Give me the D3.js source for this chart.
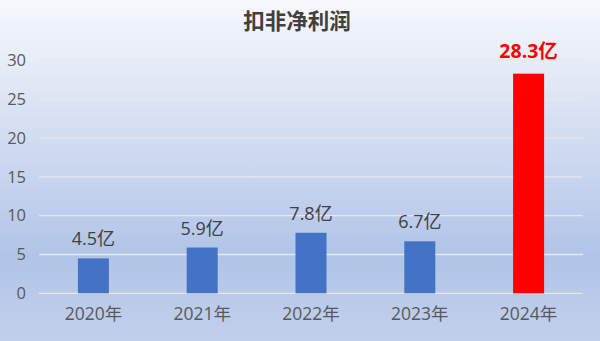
<!DOCTYPE html>
<html>
<head>
<meta charset="utf-8">
<script src="https://cdn.jsdelivr.net/npm/d3@7"></script>
<style>
  html, body { margin: 0; padding: 0; background: #fff; }
  svg { display: block; }
  text { font-family: "Open Sans", "Noto Sans CJK SC", sans-serif; }
</style>
</head>
<body>
<div id="chart"></div>
<script>
(function () {
  // chart data
  var years = ['2020年', '2021年', '2022年', '2023年', '2024年'];
  var profits = [4.5, 5.9, 7.8, 6.7, 28.3];
  var labels = ['4.5亿', '5.9亿', '7.8亿', '6.7亿', '28.3亿'];
  var yTicks = [0, 5, 10, 15, 20, 25, 30];
  var title = '扣非净利润';

  var width = 600;
  var height = 341;
  var plot = { left: 39, right: 583, top: 60.5, bottom: 293.3 };

  var svg = d3.select('#chart').append('svg')
      .attr('width', width)
      .attr('height', height);

  // background gradient, light at top, deeper blue lower down
  var grad = svg.append('defs').append('linearGradient')
      .attr('id', 'bg')
      .attr('x1', 0).attr('y1', 0).attr('x2', 0).attr('y2', 1);
  [['0%', '#f6f8fc'], ['18%', '#e7ecf7'], ['50%', '#c9d6ef'],
   ['75%', '#b1c4e7'], ['100%', '#c2d0ec']].forEach(function (s) {
    grad.append('stop').attr('offset', s[0]).attr('stop-color', s[1]);
  });
  svg.append('rect')
      .attr('width', width)
      .attr('height', height)
      .attr('fill', 'url(#bg)');

  var x = d3.scaleBand()
      .domain(years)
      .range([plot.left, plot.right])
      .padding(0);
  var y = d3.scaleLinear()
      .domain([0, 30])
      .range([plot.bottom, plot.top]);

  var barWidth = x.bandwidth() * 0.285;

  // gridlines
  svg.append('g')
    .selectAll('line')
    .data(yTicks)
    .join('line')
      .attr('x1', plot.left)
      .attr('x2', plot.right)
      .attr('y1', function (d) { return y(d); })
      .attr('y2', function (d) { return y(d); })
      .attr('stroke', '#e6e8ec')
      .attr('stroke-width', 1.3);

  // y axis labels
  var yAxis = svg.append('g')
      .attr('transform', 'translate(' + (plot.left - 13) + ',0)')
      .call(d3.axisLeft(y).tickValues(yTicks).tickSize(0).tickPadding(0));
  yAxis.select('.domain').remove();
  yAxis.selectAll('text')
      .attr('fill', '#595959')
      .attr('font-size', 16.5)
      .style('font-family', '"Open Sans", sans-serif');

  // x axis labels
  var xAxis = svg.append('g')
      .attr('transform', 'translate(0,' + plot.bottom + ')')
      .call(d3.axisBottom(x).tickSize(0).tickPadding(14));
  xAxis.select('.domain').remove();
  xAxis.selectAll('text')
      .attr('fill', '#595959')
      .attr('font-size', 17.5);

  function isLast(i) { return i === profits.length - 1; }

  // bars
  svg.append('g')
    .selectAll('rect')
    .data(profits)
    .join('rect')
      .attr('x', function (d, i) { return x(years[i]) + x.bandwidth() / 2 - barWidth / 2; })
      .attr('y', function (d) { return y(d); })
      .attr('width', barWidth)
      .attr('height', function (d) { return y(0) - y(d); })
      .attr('fill', function (d, i) { return isLast(i) ? '#ff0000' : '#4472c4'; });

  // value labels
  svg.append('g')
    .selectAll('text')
    .data(profits)
    .join('text')
      .attr('x', function (d, i) { return x(years[i]) + x.bandwidth() / 2; })
      .attr('y', function (d, i) { return y(d) - (isLast(i) ? 16 : 13); })
      .attr('text-anchor', 'middle')
      .attr('font-size', function (d, i) { return isLast(i) ? 19.5 : 18; })
      .attr('font-weight', function (d, i) { return isLast(i) ? 'bold' : 'normal'; })
      .attr('fill', function (d, i) { return isLast(i) ? '#ff0000' : '#404040'; })
      .text(function (d, i) { return labels[i]; });

  // title
  svg.append('text')
      .attr('x', 297)
      .attr('y', 29)
      .attr('text-anchor', 'middle')
      .attr('font-size', 21.5)
      .attr('font-weight', 'bold')
      .attr('fill', '#404040')
      .style('font-family', '"Noto Sans CJK SC", sans-serif')
      .text(title);
}());
</script>
</body>
</html>
